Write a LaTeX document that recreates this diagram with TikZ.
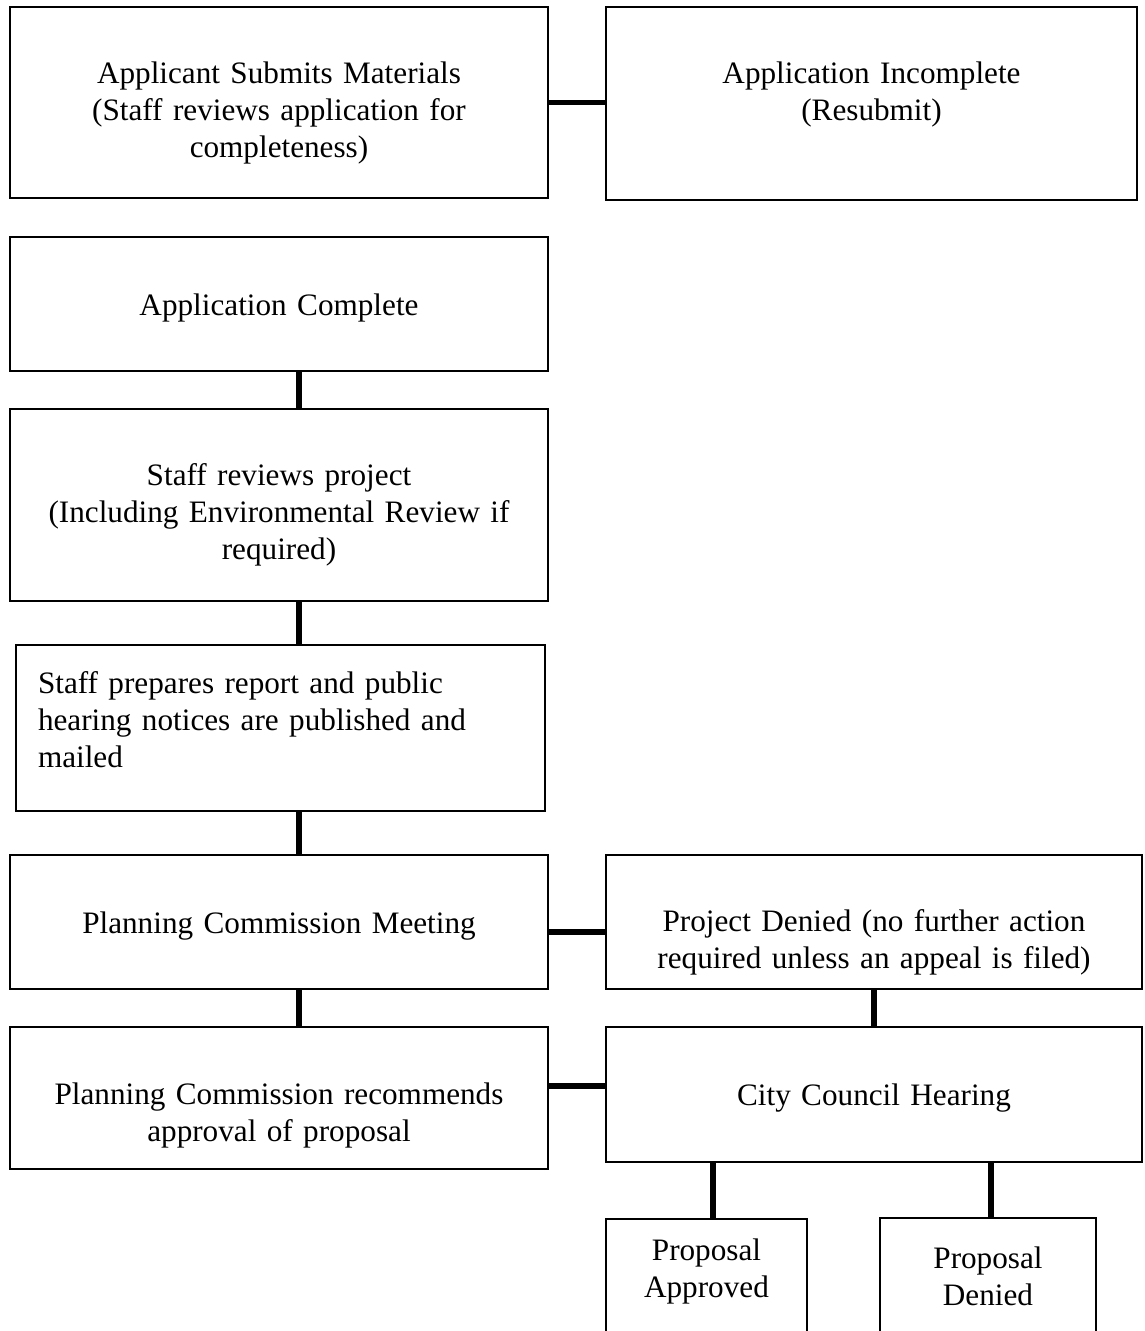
\documentclass[tikz,border=0pt]{standalone}
\usepackage{fontspec}
\setmainfont{Liberation Serif}
\tikzset{
  caja/.style={draw, line width=1.8pt, inner sep=0pt, outer sep=0pt,
    align=center, anchor=north, font=\fontsize{31.2}{37}\selectfont},
  enlace/.style={line width=5.5pt},
}
\begin{document}
\begin{tikzpicture}[x=1pt,y=-1pt]
                \useasboundingbox (0,0) rectangle (1145,1331);
                \fill[white] (0,0) rectangle (1145,1331);
                \clip (0,0) rectangle (1145,1331);
                % columna izquierda
                \node[caja, text width=538pt, text height=76pt, text depth=115pt] (apply) at (279,7)
                  {Applicant Submits Materials\\(Staff reviews application for\\completeness)};
                \node[caja, text width=538pt, text height=78pt, text depth=56pt] (complete) at (279,237)
                  {Application Complete};
                \node[caja, text width=538pt, text height=76pt, text depth=116pt] (review) at (279,409)
                  {Staff reviews project\\(Including Environmental Review if\\required)};
                \node[caja, anchor=north west, align=left, inner xsep=22pt, text width=485pt,
                  text height=48pt, text depth=118pt] (notices) at (16,645)
                  {Staff prepares report and public\\hearing notices are published and\\mailed};
                \node[caja, text width=538pt, text height=78pt, text depth=56pt] (meeting) at (279,855)
                  {Planning Commission Meeting};
                \node[caja, text width=538pt, text height=77pt, text depth=65pt] (recommend) at (279,1027)
                  {Planning Commission recommends\\approval of proposal};
                % columna derecha
                \node[caja, text width=531pt, text height=76pt, text depth=117pt] (incomplete) at (871.5,7)
                  {Application Incomplete\\(Resubmit)};
                \node[caja, text width=536pt, text height=76pt, text depth=58pt] (denied) at (874,855)
                  {Project Denied (no further action\\required unless an appeal is filed)};
                \node[caja, text width=536pt, text height=78pt, text depth=57pt] (council) at (874,1027)
                  {City Council Hearing};
                \node[caja, text width=201pt, text height=41pt, text depth=120pt] (approved) at (706.5,1219)
                  {Proposal\\Approved};
                \node[caja, text width=216pt, text height=50pt, text depth=120pt] (propdenied) at (988,1218)
                  {Proposal\\Denied};
                % enlaces
                \coordinate (spine) at (299,0);
                \draw[enlace] (apply.east) -- (apply.east -| incomplete.west);
                \draw[enlace] (complete.south -| spine) -- (review.north -| spine);
                \draw[enlace] (review.south -| spine) -- (notices.north -| spine);
                \draw[enlace] (notices.south -| spine) -- (meeting.north -| spine);
                \draw[enlace] (meeting.south -| spine) -- (recommend.north -| spine);
                \coordinate (mdjoin) at ([yshift=-10pt]meeting.east);
                \draw[enlace] (mdjoin) -- (mdjoin -| denied.west);
                \draw[enlace] (denied.south) -- (council.north);
                \coordinate (rcjoin) at ([yshift=12pt]recommend.east);
                \draw[enlace] (rcjoin) -- (rcjoin -| council.west);
                \coordinate (apjoin) at ([xshift=6.5pt]approved.north);
                \draw[enlace] (apjoin) -- (apjoin |- council.south);
                \coordinate (pdjoin) at ([xshift=3pt]propdenied.north);
                \draw[enlace] (pdjoin) -- (pdjoin |- council.south);
            \end{tikzpicture}
\end{document}
